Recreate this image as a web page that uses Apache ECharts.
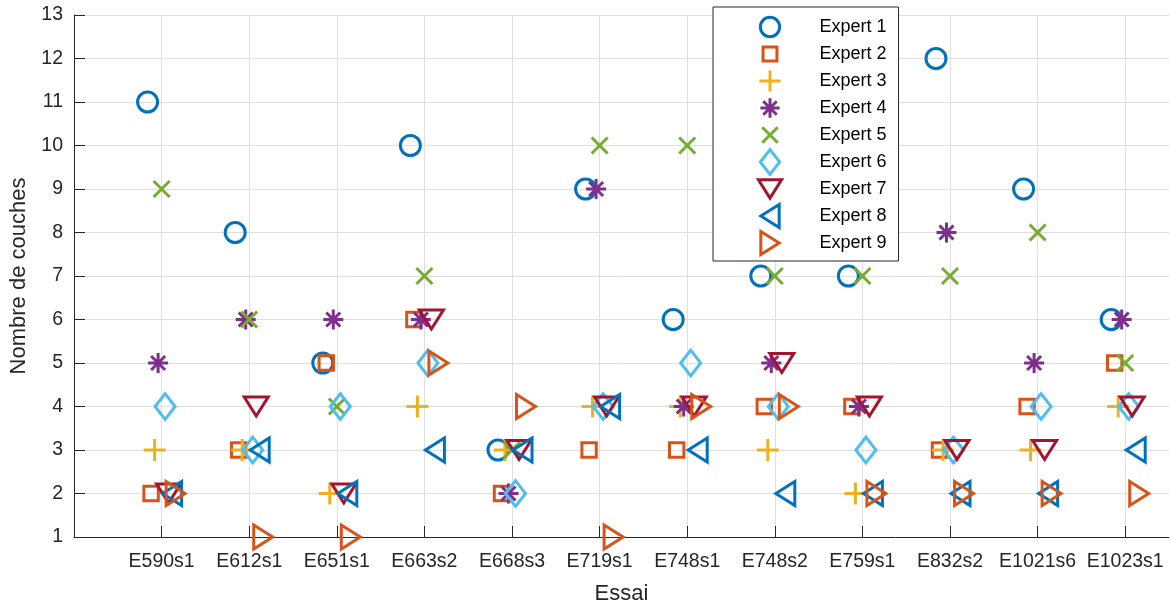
<!DOCTYPE html>
<html>
<head>
<meta charset="utf-8">
<script src="https://cdn.jsdelivr.net/npm/echarts@6/dist/echarts.min.js"></script>
<style>
html,body{margin:0;padding:0;background:#fff;}
#chart{width:1171px;height:607px;}
</style>
</head>
<body>
<div id="chart"></div>
<script>
// ---- data ----
const categories = ['E590s1','E612s1','E651s1','E663s2','E668s3','E719s1','E748s1','E748s2','E759s1','E832s2','E1021s6','E1023s1'];
const expertNames = ['Expert 1','Expert 2','Expert 3','Expert 4','Expert 5','Expert 6','Expert 7','Expert 8','Expert 9'];
const expert1 = [11, 8, 5, 10, 3, 9, 6, 7, 7, 12, 9, 6];
const expert2 = [2, 3, 5, 6, 2, 3, 3, 4, 4, 3, 4, 5];
const expert3 = [3, 3, 2, 4, 3, 4, 4, 3, 2, 3, 3, 4];
const expert4 = [5, 6, 6, 6, 2, 9, 4, 5, 4, 8, 5, 6];
const expert5 = [9, 6, 4, 7, 3, 10, 10, 7, 7, 7, 8, 5];
const expert6 = [4, 3, 4, 5, 2, 4, 5, 4, 3, 3, 4, 4];
const expert7 = [2, 4, 2, 6, 3, 4, 4, 5, 4, 3, 3, 4];
const expert8 = [2, 3, 2, 3, 3, 4, 3, 2, 2, 2, 2, 3];
const expert9 = [2, 1, 1, 5, 4, 1, 4, 4, 2, 2, 2, 2];
const yTicks = [1,2,3,4,5,6,7,8,9,10,11,12,13];

// ---- styling ----
const colors = ['#0072BD','#D95319','#EDB120','#7E2F8E','#77AC30','#4DBEEE','#A2142F','#0072BD','#D95319'];
const box = 'M0 0M28 28';
const markers = [
  'path://' + box + 'M24 14A10 10 0 1 1 4 14A10 10 0 1 1 24 14Z',
  'path://' + box + 'M6.8 6.8L21.2 6.8L21.2 21.2L6.8 21.2Z',
  'path://' + box + 'M14 3L14 25M3 14L25 14',
  'path://' + box + 'M14 4L14 24M4 14L24 14M7 7L21 21M21 7L7 21',
  'path://' + box + 'M6 6L22 22M22 6L6 22',
  'path://' + box + 'M14 1.2L24 14L14 26.8L4 14Z',
  'path://' + box + 'M2 4.5L26 4.5L14 23.5Z',
  'path://' + box + 'M4.5 14L23.5 2L23.5 26Z',
  'path://' + box + 'M4.5 2L23.5 14L4.5 26Z'
];
const jitter = [-0.16,-0.12,-0.08,-0.04,0,0.04,0.08,0.12,0.16];
const allExperts = [expert1,expert2,expert3,expert4,expert5,expert6,expert7,expert8,expert9];

const series = allExperts.map((vals, k) => ({
  name: expertNames[k],
  type: 'scatter',
  symbol: markers[k],
  symbolSize: 28,
  clip: false,
  itemStyle: { color: 'rgba(0,0,0,0)', borderColor: colors[k], borderWidth: 3, opacity: 1 },
  emphasis: { disabled: true },
  data: vals.map((v, i) => [i + 1 + jitter[k], v])
}));

const axisCol = '#262626';
const font = '"Liberation Sans", Arial, Helvetica, sans-serif';
const chart = echarts.init(document.getElementById('chart'), null, { renderer: 'canvas' });
chart.setOption({
  animation: false,
  backgroundColor: '#fff',
  grid: { left: 74, top: 15, right: 2, bottom: 70, containLabel: false, outerBoundsMode: 'none' },
  legend: {
    orient: 'vertical',
    left: 713, top: 7,
    padding: [5, 12, 3, 42],
    itemWidth: 27, itemHeight: 27, itemGap: -3,
    backgroundColor: '#fff',
    borderColor: axisCol, borderWidth: 1,
    selectedMode: false,
    itemStyle: { borderWidth: 3, opacity: 1 },
    formatter: n => '{s|}{t|' + n + '}',
    textStyle: {
      fontFamily: font, fontSize: 18, color: '#000', lineHeight: 20,
      rich: {
        s: { width: 31, lineHeight: 20 },
        t: { fontFamily: font, fontSize: 18, color: '#000', lineHeight: 20 }
      }
    },
    data: expertNames
  },
  xAxis: {
    type: 'value', min: 0, max: 12.5, interval: 1,
    name: 'Essai', nameLocation: 'middle', nameGap: 46,
    nameTextStyle: { fontFamily: font, fontSize: 22, color: axisCol },
    axisLine: { show: true, onZero: false, lineStyle: { color: axisCol, width: 1 } },
    axisTick: { show: true, inside: true, length: 11, customValues: categories.map((c, i) => i + 1), lineStyle: { color: axisCol } },
    axisLabel: { customValues: categories.map((c, i) => i + 1), margin: 15, fontFamily: font, fontSize: 19.5, color: axisCol,
      formatter: v => categories[Math.round(v) - 1] || '' },
    splitLine: { show: true, lineStyle: { color: '#dfdfdf', width: 1 } }
  },
  yAxis: {
    type: 'value', min: yTicks[0], max: yTicks[yTicks.length - 1], interval: 1,
    name: 'Nombre de couches', nameLocation: 'middle', nameGap: 35, nameRotate: 90,
    nameTextStyle: { fontFamily: font, fontSize: 22, color: axisCol },
    axisLine: { show: true, onZero: false, lineStyle: { color: axisCol, width: 1 } },
    axisTick: { show: true, inside: true, length: 11, lineStyle: { color: axisCol } },
    axisLabel: { margin: 11, fontFamily: font, fontSize: 19.5, color: axisCol },
    splitLine: { show: true, lineStyle: { color: '#dfdfdf', width: 1 } }
  },
  series: series
});
</script>
</body>
</html>
